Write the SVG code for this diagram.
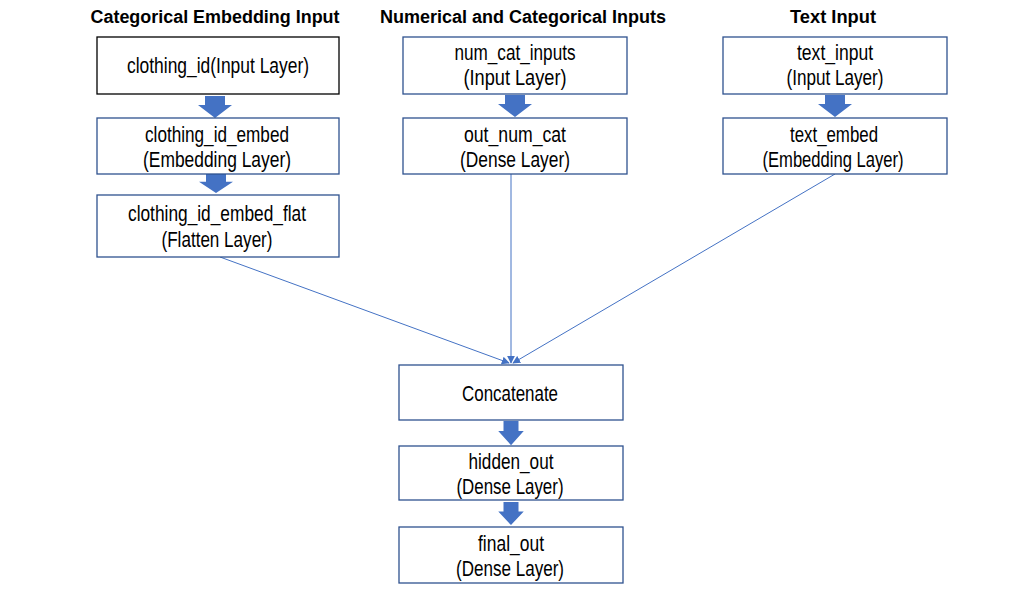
<svg xmlns="http://www.w3.org/2000/svg" width="1031" height="612" viewBox="0 0 1031 612">
<style>
.box{fill:#fff;stroke:#2F528F;stroke-width:1.3}
.box.k{stroke:#000}
.t{font-family:"Liberation Sans",Arial,sans-serif;font-size:22px;fill:#000;text-anchor:middle}
.h{font-family:"Liberation Sans",Arial,sans-serif;font-size:18px;font-weight:bold;fill:#000;text-anchor:middle}
.blk{fill:#4472C4}
.ln{stroke:#4472C4;stroke-width:1;fill:none;marker-end:url(#ah)}
</style>
<defs>
<marker id="ah" viewBox="0 0 10 10" refX="9" refY="5" markerWidth="8" markerHeight="8" markerUnits="userSpaceOnUse" orient="auto">
<path d="M0,0 L10,5 L0,10 z" fill="#4472C4"/>
</marker>
<path id="barrow" d="M-10,0 H10 V9 H17 L0,22 L-17,9 H-10 z"/>
</defs>
<rect width="1031" height="612" fill="#fff"/>
<g id="titles">
<text class="h" x="215" y="23" textLength="249" lengthAdjust="spacingAndGlyphs">Categorical Embedding Input</text>
<text class="h" x="523" y="23" textLength="286" lengthAdjust="spacingAndGlyphs">Numerical and Categorical Inputs</text>
<text class="h" x="833" y="23" textLength="86" lengthAdjust="spacingAndGlyphs">Text Input</text>
</g>
<g id="connectors">
<use href="#barrow" class="blk" transform="translate(215,96)"/>
<use href="#barrow" class="blk" transform="translate(216,174) scale(1,0.86)"/>
<use href="#barrow" class="blk" transform="translate(515,95)"/>
<use href="#barrow" class="blk" transform="translate(835,95)"/>
<use href="#barrow" class="blk" transform="translate(511,421) scale(0.75,1.1)"/>
<use href="#barrow" class="blk" transform="translate(511,502) scale(0.75,1.05)"/>
<line class="ln" x1="220" y1="257" x2="509" y2="363"/>
<line class="ln" x1="511" y1="174" x2="511" y2="363"/>
<line class="ln" x1="835" y1="174" x2="513" y2="363"/>
</g>
<g id="clothing_id">
<rect class="box k" x="97" y="37" width="242" height="57"/>
<text class="t" x="218" y="73" textLength="182" lengthAdjust="spacingAndGlyphs">clothing_id(Input Layer)</text>
</g>
<g id="clothing_id_embed">
<rect class="box" x="97" y="118" width="242" height="56"/>
<text class="t" x="217" y="142" textLength="144" lengthAdjust="spacingAndGlyphs">clothing_id_embed</text>
<text class="t" x="217" y="167" textLength="148" lengthAdjust="spacingAndGlyphs">(Embedding Layer)</text>
</g>
<g id="clothing_id_embed_flat">
<rect class="box" x="97" y="195" width="242" height="62"/>
<text class="t" x="217" y="221" textLength="178" lengthAdjust="spacingAndGlyphs">clothing_id_embed_flat</text>
<text class="t" x="217" y="247" textLength="111" lengthAdjust="spacingAndGlyphs">(Flatten Layer)</text>
</g>
<g id="num_cat_inputs">
<rect class="box" x="403" y="37" width="224" height="57"/>
<text class="t" x="515" y="60" textLength="121" lengthAdjust="spacingAndGlyphs">num_cat_inputs</text>
<text class="t" x="515" y="85" textLength="103" lengthAdjust="spacingAndGlyphs">(Input Layer)</text>
</g>
<g id="out_num_cat">
<rect class="box" x="403" y="118" width="224" height="56"/>
<text class="t" x="515" y="142" textLength="102" lengthAdjust="spacingAndGlyphs">out_num_cat</text>
<text class="t" x="515" y="167" textLength="110" lengthAdjust="spacingAndGlyphs">(Dense Layer)</text>
</g>
<g id="text_input">
<rect class="box" x="723" y="37" width="224" height="57"/>
<text class="t" x="835" y="60" textLength="76" lengthAdjust="spacingAndGlyphs">text_input</text>
<text class="t" x="835" y="85" textLength="97" lengthAdjust="spacingAndGlyphs">(Input Layer)</text>
</g>
<g id="text_embed">
<rect class="box" x="723" y="118" width="224" height="56"/>
<text class="t" x="834" y="142" textLength="88" lengthAdjust="spacingAndGlyphs">text_embed</text>
<text class="t" x="833" y="167" textLength="141" lengthAdjust="spacingAndGlyphs">(Embedding Layer)</text>
</g>
<g id="concatenate">
<rect class="box" x="399" y="365" width="224" height="55"/>
<text class="t" x="510" y="401" textLength="96" lengthAdjust="spacingAndGlyphs">Concatenate</text>
</g>
<g id="hidden_out">
<rect class="box" x="399" y="446" width="224" height="54"/>
<text class="t" x="511" y="469" textLength="85" lengthAdjust="spacingAndGlyphs">hidden_out</text>
<text class="t" x="510" y="494" textLength="107" lengthAdjust="spacingAndGlyphs">(Dense Layer)</text>
</g>
<g id="final_out">
<rect class="box" x="399" y="527" width="224" height="56"/>
<text class="t" x="511" y="551" textLength="66" lengthAdjust="spacingAndGlyphs">final_out</text>
<text class="t" x="510" y="576" textLength="108" lengthAdjust="spacingAndGlyphs">(Dense Layer)</text>
</g>
</svg>
